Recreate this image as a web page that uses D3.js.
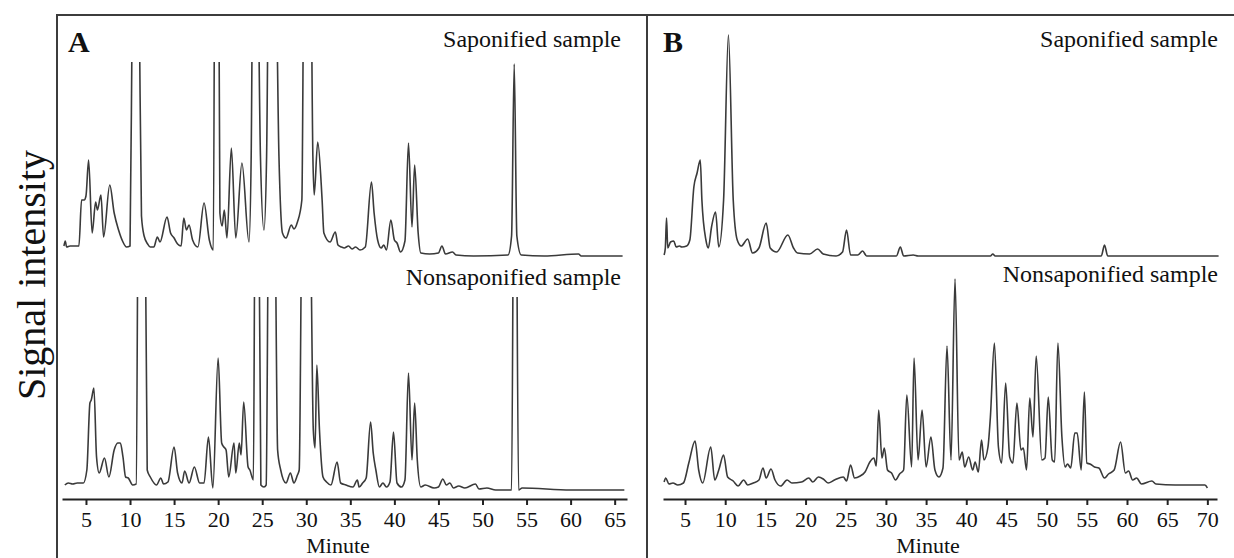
<!DOCTYPE html>
<html>
<head>
<meta charset="utf-8">
<script src="https://cdn.jsdelivr.net/npm/d3@7"></script>
<style>
  html, body { margin: 0; padding: 0; background: #fff; }
  svg { display: block; }
  text { font-family: "Liberation Serif", "Times New Roman", serif; fill: #111; }
</style>
</head>
<body>
<svg id="chart" width="1234" height="558"></svg>
<script>
// ---------- DATA (minute, relative intensity) ----------
const ticksA = [5, 10, 15, 20, 25, 30, 35, 40, 45, 50, 55, 60, 65];
const ticksB = [5, 10, 15, 20, 25, 30, 35, 40, 45, 50, 55, 60, 65, 70];
const panelLabels = ["A", "B"];
const traceLabels = ["Saponified sample", "Nonsaponified sample"];
const xTitle = "Minute";
const yTitle = "Signal intensity";

const sapA = [
  [2.5,10],[2.65,15],[2.8,9],[3.2,10],[3.8,10],[4.2,10],[4.5,56],[4.8,56],[5.0,60],[5.3,96],[5.7,23],
  [6.1,54],[6.3,46],[6.7,61],[7.0,19],[7.7,71],[8.2,43],[8.7,26],[9.2,14],[9.6,9],[10.0,10],[10.25,250],
  [10.7,500],[11.05,250],[11.3,40],[11.6,20],[12.0,12],[12.3,9],[12.7,9],[13.1,19],[13.4,14],[14.2,39],
  [14.6,23],[15.0,18],[15.4,12],[15.8,10],[16.1,38],[16.4,26],[16.7,31],[17.1,16],[17.7,9],[18.4,53],
  [19.0,16],[19.45,6],[19.7,500],[19.95,500],[20.2,43],[20.45,30],[20.7,46],[21.0,18],[21.5,108],[22.0,18],
  [22.7,93],[23.5,14],[23.75,100],[23.95,300],[24.45,300],[24.8,100],[25.2,26],[25.5,100],[25.75,300],
  [26.5,300],[26.9,100],[27.3,23],[27.7,18],[28.3,31],[28.6,27],[29.0,34],[29.5,56],[29.75,300],[30.5,300],
  [30.75,100],[30.9,61],[31.3,114],[31.8,56],[32.0,23],[32.7,14],[33.3,24],[33.6,11],[34.0,9],[34.3,8],
  [34.8,10],[35.2,7],[35.6,9],[36.1,6],[36.7,9],[37.4,74],[37.7,43],[38.1,16],[38.5,8],[38.8,11],[39.1,6],
  [39.6,36],[40.0,16],[40.3,13],[40.7,4],[41.2,15],[41.6,113],[42.0,29],[42.3,91],[42.7,23],[43.0,3],
  [44.0,2],[45.0,3],[45.4,10],[45.8,2],[46.6,4],[47.0,1],[49.0,0],[52.9,1],[53.3,20],[53.6,192],[53.9,20],
  [54.4,1],[57.0,0],[60.9,2],[61.2,0],[65.9,0]
];
const nonsapA = [
  [2.6,5],[3.0,7],[3.5,6],[4.0,7],[4.7,7],[5.1,20],[5.45,87],[5.6,90],[5.9,102],[6.2,33],[6.5,17],[7.1,32],
  [7.6,13],[8.2,40],[8.6,47],[8.9,47],[9.2,33],[9.5,13],[9.8,12],[10.3,5],[10.7,6],[11.0,400],[11.6,400],
  [11.95,20],[12.3,13],[13.0,5],[13.5,12],[13.8,6],[14.3,8],[15.0,43],[15.4,17],[15.9,7],[16.2,19],[16.7,7],
  [17.3,23],[17.9,7],[18.4,7],[18.9,53],[19.4,2],[20.0,132],[20.4,47],[20.65,43],[20.9,40],[21.2,13],
  [21.8,47],[22.0,17],[22.4,47],[22.6,35],[22.9,88],[23.4,23],[23.6,20],[24.0,10],[24.2,300],[24.6,300],
  [24.85,5],[25.2,3],[25.45,5],[25.75,300],[26.4,300],[26.75,40],[27.1,20],[27.7,7],[28.2,17],[28.6,7],
  [29.0,15],[29.2,20],[29.55,300],[30.4,300],[30.8,60],[31.0,42],[31.2,125],[31.5,60],[31.9,13],[32.3,8],
  [32.8,5],[33.5,28],[33.9,7],[34.5,5],[35.3,3],[35.8,10],[36.0,3],[36.4,7],[36.8,12],[37.3,68],[37.6,37],
  [37.9,20],[38.3,3],[38.7,7],[39.1,3],[39.5,8],[39.9,58],[40.3,7],[40.8,3],[41.2,10],[41.6,117],[42.0,30],
  [42.3,87],[42.6,30],[43.0,3],[43.5,5],[44.5,2],[45.0,3],[45.5,11],[45.9,5],[46.3,7],[46.7,2],[47.3,4],
  [48.0,2],[49.2,6],[49.6,1],[50.5,2],[51.5,0],[53.3,0],[53.6,400],[53.75,400],[54.1,0],[54.5,2],[60.0,0],
  [66.1,0]
];
const sapB = [
  [2.4,1],[2.55,8],[2.7,38],[2.85,8],[3.2,14],[3.6,15],[3.9,9],[4.3,10],[4.6,9],[5.2,10],[5.6,16],[6.1,69],
  [6.5,83],[6.9,96],[7.1,56],[7.6,16],[7.9,8],[8.3,29],[8.8,44],[9.2,9],[9.8,56],[10.4,221],[11.0,56],
  [11.5,16],[12.0,10],[12.8,17],[13.4,3],[14.2,8],[15.1,33],[15.6,8],[16.4,4],[17.8,21],[18.5,8],[19.0,3],
  [20.5,2],[21.5,7],[22.2,2],[23.8,0],[24.6,4],[25.1,26],[25.6,1],[26.5,1],[27.1,5],[27.6,0],[31.3,0],
  [31.8,9],[32.2,0],[33.4,1],[34.0,0],[43.0,0],[43.3,2],[43.6,0],[56.8,0],[57.2,11],[57.6,0],[71.4,0]
];
const nonsapB = [
  [2.4,4],[2.6,8],[3.0,2],[3.5,3],[4.1,1],[4.8,3],[5.5,24],[6.25,45],[6.7,16],[7.2,3],[8.2,39],[8.7,6],
  [9.2,16],[9.8,31],[10.3,9],[11.0,5],[11.6,0],[12.3,6],[12.8,1],[13.5,3],[14.2,6],[14.7,18],[15.1,8],
  [15.7,17],[16.2,6],[16.9,0],[17.7,6],[18.3,3],[19.5,4],[20.4,8],[20.9,4],[21.6,9],[22.2,7],[22.8,3],
  [23.6,6],[24.7,9],[25.1,5],[25.6,21],[26.1,8],[26.8,10],[27.4,14],[28.0,24],[28.5,28],[28.8,20],[29.1,76],
  [29.5,28],[29.8,38],[30.2,16],[30.7,13],[31.2,6],[31.7,12],[32.2,16],[32.6,91],[33.2,19],[33.5,128],
  [34.0,26],[34.5,76],[35.0,19],[35.6,49],[36.1,16],[36.6,9],[37.1,18],[37.6,140],[38.1,26],[38.6,207],
  [39.1,26],[39.5,34],[39.8,19],[40.3,29],[40.8,16],[41.1,24],[41.5,14],[41.9,46],[42.2,26],[42.7,39],
  [43.0,69],[43.5,143],[44.0,39],[44.4,23],[44.9,103],[45.4,29],[45.8,23],[46.3,83],[46.8,36],[47.1,38],
  [47.5,16],[47.9,88],[48.3,49],[48.7,130],[49.4,26],[49.8,28],[50.2,89],[50.7,26],[51.0,24],[51.4,143],
  [51.9,49],[52.3,19],[52.6,22],[53.0,18],[53.5,53],[53.8,53],[54.3,16],[54.7,94],[55.0,23],[55.4,22],
  [55.95,19],[56.5,18],[57.2,8],[57.7,12],[58.4,16],[59.2,44],[59.8,13],[60.2,15],[60.7,6],[61.2,8],
  [61.8,2],[63.1,5],[63.6,2],[66.0,1],[69.7,1],[70.0,-2]
];

// ---------- LAYOUT ----------
const svg = d3.select("#chart");
const lineColor = "#3a3a3a";
const frameColor = "#3c3c3c";

const xA = d3.scaleLinear().domain([2.28, 66.4]).range([62, 627]);
const xB = d3.scaleLinear().domain([2.26, 71.2]).range([663, 1217]);

const panels = [
  { x: xA, ticks: ticksA, label: panelLabels[0], labelX: 68, textRight: 621,
    traces: [
      { data: sapA, y: d3.scaleLinear().domain([0, 194]).range([256, 62]), clipTop: 62, labelY: 47 },
      { data: nonsapA, y: d3.scaleLinear().domain([0, 193]).range([490, 297]), clipTop: 297, labelY: 285 }
    ], titleX: 338 },
  { x: xB, ticks: ticksB, label: panelLabels[1], labelX: 663, textRight: 1218,
    traces: [
      { data: sapB, y: d3.scaleLinear().domain([0, 221]).range([256, 35]), clipTop: 0, labelY: 47 },
      { data: nonsapB, y: d3.scaleLinear().domain([0, 207]).range([486, 279]), clipTop: 0, labelY: 282 }
    ], titleX: 928 }
];

const axisY = 499;
const defs = svg.append("defs");

panels.forEach((p, pi) => {
  const g = svg.append("g");
  p.traces.forEach((t, ti) => {
    const id = `clip-${pi}-${ti}`;
    defs.append("clipPath").attr("id", id)
      .append("rect").attr("x", 0).attr("y", t.clipTop).attr("width", 1234).attr("height", 558 - t.clipTop);
    const line = d3.line()
      .x(d => p.x(d[0]))
      .y(d => t.y(d[1]))
      .curve(d3.curveMonotoneX);
    g.append("path")
      .datum(t.data)
      .attr("clip-path", `url(#${id})`)
      .attr("fill", "none")
      .attr("stroke", lineColor)
      .attr("stroke-width", 1.6)
      .attr("stroke-linejoin", "round")
      .attr("d", line);
    g.append("text")
      .attr("x", p.textRight).attr("y", t.labelY)
      .attr("text-anchor", "end")
      .attr("font-size", 24)
      .text(traceLabels[ti]);
  });

  // axis
  const axis = d3.axisBottom(p.x).tickValues(p.ticks).tickSizeInner(6).tickSizeOuter(0).tickPadding(6)
    .tickFormat(d3.format("d"));
  const ag = g.append("g").attr("transform", `translate(0,${axisY})`).call(axis);
  ag.select(".domain").attr("stroke", "#222").attr("stroke-width", 2.2);
  ag.selectAll(".tick line").attr("stroke", "#222").attr("stroke-width", 2);
  ag.selectAll(".tick text")
    .attr("font-size", 22)
    .attr("font-family", "Liberation Serif, Times New Roman, serif")
    .attr("fill", "#111");

  g.append("text")
    .attr("x", p.titleX).attr("y", 553)
    .attr("text-anchor", "middle")
    .attr("font-size", 22)
    .text(xTitle);

  g.append("text")
    .attr("x", p.labelX).attr("y", 52)
    .attr("font-size", 30)
    .attr("font-weight", "bold")
    .text(p.label);
});

// frame
svg.append("line").attr("x1", 57).attr("x2", 1234).attr("y1", 15).attr("y2", 15)
  .attr("stroke", frameColor).attr("stroke-width", 2);
svg.append("line").attr("x1", 57).attr("x2", 57).attr("y1", 14).attr("y2", 558)
  .attr("stroke", frameColor).attr("stroke-width", 2);
svg.append("line").attr("x1", 647).attr("x2", 647).attr("y1", 14).attr("y2", 558)
  .attr("stroke", frameColor).attr("stroke-width", 2);

// y title
svg.append("text")
  .attr("transform", "translate(45,275) rotate(-90)")
  .attr("text-anchor", "middle")
  .attr("font-size", 40)
  .text(yTitle);
</script>
</body>
</html>
